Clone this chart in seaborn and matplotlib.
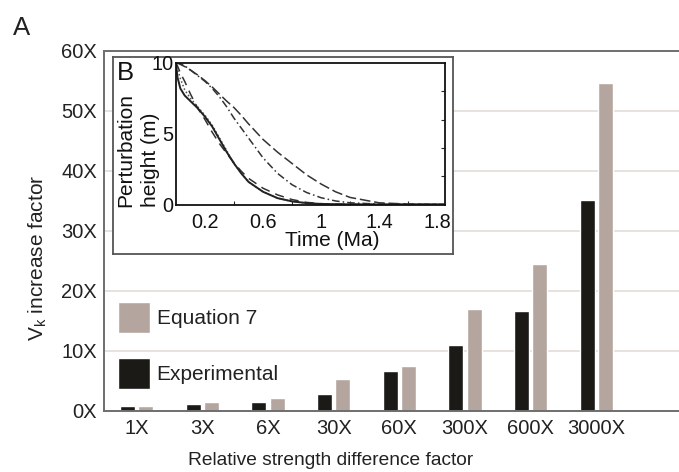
import numpy as np
import pandas as pd
import matplotlib
matplotlib.use("Agg")
import matplotlib.pyplot as plt
from matplotlib.ticker import FixedLocator
import seaborn as sns

# ---------------- data ----------------
categories = ["1X", "3X", "6X", "30X", "60X", "300X", "600X", "3000X"]
experimental = [0.8, 1.1, 1.45, 2.8, 6.7, 11.0, 16.6, 35.1]
equation7 = [0.8, 1.45, 2.1, 5.3, 7.5, 17.0, 24.5, 54.6]
y_ticks = [0, 10, 20, 30, 40, 50, 60]
y_tick_labels = ["0X", "10X", "20X", "30X", "40X", "50X", "60X"]

# inset (B) curves
t_ma = [0, 0.01, 0.03, 0.06, 0.1, 0.15, 0.2, 0.25, 0.3, 0.35, 0.4, 0.45, 0.5,
        0.6, 0.7, 0.8, 0.9, 1.0, 1.1, 1.2, 1.4, 1.6, 1.85]
h_solid = [10, 9.0, 8.2, 7.7, 7.3, 6.8, 6.2, 5.5, 4.6, 3.7, 2.9, 2.2, 1.6,
           0.9, 0.45, 0.22, 0.1, 0.04, 0.02, 0.01, 0, 0, 0]
h_dotted = [10, 9.6, 8.9, 8.1, 7.5, 6.9, 6.3, 5.6, 4.7, 3.8, 2.9, 2.2, 1.6,
            0.9, 0.45, 0.22, 0.1, 0.04, 0.02, 0.01, 0, 0, 0]
h_dashed = [10, 9.8, 9.3, 8.7, 7.8, 6.8, 6.0, 5.1, 4.3, 3.6, 2.95, 2.35, 1.85,
            1.15, 0.68, 0.35, 0.15, 0.06, 0.03, 0.01, 0, 0, 0]
h_dashdot = [10, 10, 9.95, 9.8, 9.5, 9.1, 8.7, 8.2, 7.6, 6.9, 6.1, 5.4, 4.7,
             3.3, 2.2, 1.4, 0.85, 0.48, 0.25, 0.12, 0.03, 0.01, 0]
h_outer = [10, 10, 9.9, 9.75, 9.5, 9.15, 8.75, 8.3, 7.8, 7.3, 6.85, 6.3, 5.7,
           4.6, 3.7, 2.9, 2.1, 1.45, 0.9, 0.5, 0.12, 0.03, 0]
inset_xticks = [0.2, 0.6, 1.0, 1.4, 1.8]
inset_xticklabels = ["0.2", "0.6", "1", "1.4", "1.8"]
inset_yticks = [0, 5, 10]

# ---------------- style ----------------
sns.set_theme(style="white")
plt.rcParams["font.family"] = ["Liberation Sans", "DejaVu Sans"]
plt.rcParams["mathtext.fontset"] = "custom"
plt.rcParams["mathtext.rm"] = "Liberation Sans"

TXT = "#222222"
C_EXP = "#1b1a17"
C_EQ = "#b4a69f"
GRID = "#e6dfdc"
SPINE = "#6e6e6e"

fig = plt.figure(figsize=(6.79, 4.72), dpi=100)
W, H = 679, 472

def rect(l, t, r, b):
    return [l / W, 1 - b / H, (r - l) / W, (b - t) / H]

ax = fig.add_axes(rect(104, 51, 679, 411))

df = pd.DataFrame({
    "category": categories * 2,
    "value": experimental + equation7,
    "series": ["Experimental"] * len(categories) + ["Equation 7"] * len(categories),
})

sns.barplot(data=df, x="category", y="value", hue="series",
            hue_order=["Experimental", "Equation 7"],
            palette=[C_EXP, C_EQ], width=0.557, gap=0.18,
            saturation=1, ax=ax, legend=True)

ax.set_xlim(-0.495, 8.257)
ax.set_ylim(0, 60)
ax.set_yticks(y_ticks)
ax.set_yticklabels(y_tick_labels)
ax.yaxis.grid(True, color=GRID, lw=1.3)
ax.set_axisbelow(True)
ax.tick_params(axis="both", length=0, labelsize=14.5, colors=TXT)
ax.tick_params(axis="y", pad=5)
ax.tick_params(axis="x", pad=6)
for side in ["left", "bottom", "top"]:
    ax.spines[side].set_color(SPINE)
    ax.spines[side].set_linewidth(1.4)
ax.spines["right"].set_visible(False)

ax.set_xlabel("Relative strength difference factor", fontsize=13.8, color=TXT)
ax.set_ylabel(r"V$_{\mathregular{k}}$ increase factor", fontsize=15, color=TXT)
ax.xaxis.set_label_coords((331 - 104) / 575, (411 - 452) / 360)
ax.yaxis.set_label_coords((49 - 104) / 575, (411 - 257.5) / 360)

# legend: Equation 7 on top
leg = ax.legend_
handles = list(leg.legend_handles)
labels = [t.get_text() for t in leg.texts]
leg.remove()
ax.legend(handles[::-1], labels[::-1], loc="upper left",
          bbox_to_anchor=(118 / W, 1 - 302 / H), bbox_transform=fig.transFigure,
          frameon=False, borderpad=0, borderaxespad=0, fontsize=15,
          handlelength=1.55, handleheight=1.91, labelspacing=1.19,
          handletextpad=0.3, labelcolor=TXT)

fig.text(13 / W, 1 - 16 / H, "A", fontsize=18.5, color=TXT, ha="left", va="top")

# ---------------- inset ----------------
box = fig.add_axes(rect(113, 57, 453, 254))
box.set_facecolor("white")
box.set_xticks([])
box.set_yticks([])
for s in box.spines.values():
    s.set_color("#555555")
    s.set_linewidth(1.3)

ins = fig.add_axes(rect(176, 63, 445, 204.5))
ins.set_facecolor("white")
lw = 1.1
sns.lineplot(x=t_ma, y=h_outer, ax=ins, color="#333333", lw=lw,
             linestyle=(0, (7, 2.5)), sort=False)
sns.lineplot(x=t_ma, y=h_dashdot, ax=ins, color="#333333", lw=lw,
             linestyle=(0, (5, 2, 1, 2)), sort=False)
sns.lineplot(x=t_ma, y=h_dashed, ax=ins, color="#333333", lw=lw,
             linestyle=(0, (6, 4)), sort=False)
sns.lineplot(x=t_ma, y=h_dotted, ax=ins, color="#555555", lw=lw,
             linestyle=(0, (1, 1.5)), sort=False)
sns.lineplot(x=t_ma, y=h_solid, ax=ins, color="#222222", lw=1.4,
             linestyle="-", sort=False)

ins.set_xlim(0, 1.855)
ins.set_ylim(0, 10)
ins.set_xticks(inset_xticks)
ins.set_xticklabels(inset_xticklabels)
ins.xaxis.set_minor_locator(FixedLocator([0.4, 0.8, 1.2, 1.6]))
ins.set_yticks(inset_yticks)
ins.set_yticklabels([str(v) for v in inset_yticks])
ins.yaxis.set_minor_locator(FixedLocator([2, 4, 6, 8]))
ins.tick_params(axis="both", which="major", direction="in", length=3,
                width=0.8, labelsize=14.3, colors="#111111")
ins.tick_params(axis="x", which="major", pad=6.2)
ins.tick_params(axis="y", which="major", pad=2)
ins.tick_params(axis="x", which="minor", direction="in", length=3,
                width=0.8, bottom=True)
ins.tick_params(axis="y", which="minor", direction="in", length=3,
                width=0.8, left=False, right=True)
for s in ins.spines.values():
    s.set_color("#111111")
    s.set_linewidth(1.3)
ins.set_xlabel("Time (Ma)", fontsize=15, color="#111111")
ins.xaxis.set_label_coords((332.5 - 176) / 269, (204.5 - 231.5) / 141.5)
ins.set_ylabel("Perturbation\nheight (m)", fontsize=15, color="#111111",
               multialignment="left", linespacing=1.4)
ins.yaxis.set_label_coords((160 - 176) / 269, (204.5 - 150) / 141.5)

fig.text(117 / W, 1 - 61 / H, "B", fontsize=18.5, color="#111111",
         ha="left", va="top")

fig.savefig("out.png", dpi=100)
